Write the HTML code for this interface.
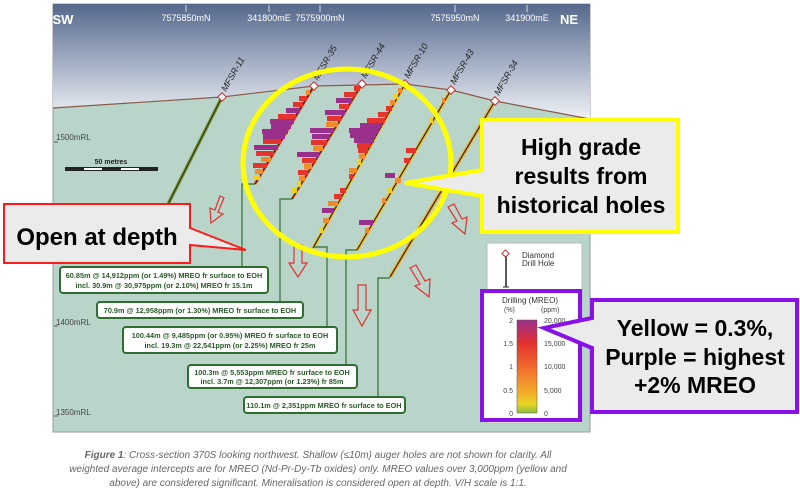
<!DOCTYPE html>
<html><head><meta charset="utf-8"><style>
body{margin:0;background:#fff;width:800px;height:492px;overflow:hidden;font-family:"Liberation Sans",sans-serif}
</style></head><body>
<svg width="800" height="492" xmlns="http://www.w3.org/2000/svg" font-family="Liberation Sans, sans-serif">
<defs>
<linearGradient id="sky" x1="0" y1="0" x2="0" y2="1">
<stop offset="0" stop-color="#55688c"/><stop offset="0.55" stop-color="#a9b4c8"/><stop offset="1" stop-color="#eef1f4"/></linearGradient>
<linearGradient id="cb" x1="0" y1="0" x2="0" y2="1">
<stop offset="0" stop-color="#9a2f8c"/><stop offset="0.25" stop-color="#e3312e"/><stop offset="0.5" stop-color="#ef6a2c"/><stop offset="0.75" stop-color="#f4a52a"/><stop offset="0.9" stop-color="#e9d325"/><stop offset="1" stop-color="#8cbf3c"/></linearGradient>
</defs>
<rect x="53" y="4" width="537" height="428" fill="#b9d5ca" stroke="#999" stroke-width="1"/>
<path d="M53,4 H590 V118 L585,118 L495,101 L451,90 L405,84 L314,86 L222,97 L53,108 Z" fill="url(#sky)"/>
<path d="M53,108 L222,97 L314,86 L405,84 L451,90 L495,101 L590,119" fill="none" stroke="#8a5a4a" stroke-width="1.2"/>
<g fill="#fff" font-size="9" text-anchor="middle">
<text x="63" y="24" font-size="13" font-weight="bold">SW</text>
<text x="569" y="24" font-size="13" font-weight="bold">NE</text>
<text x="186" y="21">7575850mN</text><text x="269" y="21">341800mE</text><text x="320" y="21">7575900mN</text><text x="455" y="21">7575950mN</text><text x="527" y="21">341900mE</text>
</g>
<g stroke="#ddd" stroke-width="1"><line x1="186" y1="5" x2="186" y2="12"/><line x1="269" y1="5" x2="269" y2="12"/><line x1="320" y1="5" x2="320" y2="12"/><line x1="455" y1="5" x2="455" y2="12"/><line x1="527" y1="5" x2="527" y2="12"/></g>
<g font-size="8" fill="#444"><text x="56" y="140">1500mRL</text><text x="56" y="325">1400mRL</text><text x="56" y="415">1350mRL</text></g>
<g stroke="#444" stroke-width="0.8"><line x1="54" y1="142" x2="58" y2="142"/><line x1="54" y1="326" x2="58" y2="326"/><line x1="54" y1="416" x2="58" y2="416"/></g>
<text x="111" y="164" font-size="7" font-weight="bold" text-anchor="middle" fill="#222">50 metres</text>
<rect x="65" y="167" width="93" height="4" fill="#222"/>
<rect x="84" y="168" width="18" height="2" fill="#fff"/><rect x="121" y="168" width="18" height="2" fill="#fff"/>
<line x1="222" y1="97" x2="150" y2="240" stroke="#7a9a30" stroke-width="3.5"/>
<line x1="222" y1="97" x2="150" y2="240" stroke="#222" stroke-width="1"/>
<line x1="495" y1="101" x2="390" y2="277" stroke="#f2b430" stroke-width="4"/>
<line x1="451" y1="90" x2="357" y2="250" stroke="#f2c030" stroke-width="4"/>
<line x1="405" y1="84" x2="313" y2="248" stroke="#f0c020" stroke-width="3.5"/>
<line x1="362" y1="84" x2="292" y2="199" stroke="#f08030" stroke-width="3"/>
<line x1="314" y1="86" x2="255" y2="184" stroke="#ef5a2a" stroke-width="3"/>
<g stroke="#222" stroke-width="1.2">
<line x1="495" y1="101" x2="390" y2="277"/><line x1="451" y1="90" x2="357" y2="250"/><line x1="405" y1="84" x2="313" y2="248"/><line x1="362" y1="84" x2="292" y2="199"/><line x1="314" y1="86" x2="255" y2="184"/></g>
<g>
<rect x="306" y="90" width="4" height="5" fill="#f08a2a"/><rect x="299" y="96" width="8" height="5" fill="#e5342c"/><rect x="293" y="102" width="10" height="5" fill="#e5342c"/><rect x="286" y="108" width="14" height="5" fill="#9b2f8c"/><rect x="278" y="114" width="18" height="5" fill="#e5342c"/><rect x="270" y="119" width="24" height="5" fill="#9b2f8c"/><rect x="271" y="124" width="20" height="5" fill="#9b2f8c"/><rect x="262" y="129" width="26" height="5" fill="#9b2f8c"/><rect x="263" y="134" width="22" height="5" fill="#9b2f8c"/><rect x="263" y="139" width="18" height="5" fill="#e5342c"/><rect x="254" y="145" width="24" height="5" fill="#9b2f8c"/><rect x="256" y="151" width="18" height="5" fill="#e5342c"/><rect x="261" y="157" width="10" height="5" fill="#f08a2a"/><rect x="253" y="163" width="14" height="5" fill="#e5342c"/><rect x="255" y="169" width="8" height="5" fill="#f08a2a"/><rect x="254" y="175" width="6" height="5" fill="#f2d020"/>
</g>
<g>
<rect x="354" y="86" width="6" height="5" fill="#e5342c"/><rect x="344" y="92" width="12" height="5" fill="#e5342c"/><rect x="336" y="98" width="16" height="5" fill="#9b2f8c"/><rect x="339" y="104" width="10" height="5" fill="#e5342c"/><rect x="325" y="110" width="20" height="5" fill="#9b2f8c"/><rect x="327" y="116" width="14" height="5" fill="#e5342c"/><rect x="326" y="122" width="12" height="5" fill="#f08a2a"/><rect x="310" y="128" width="24" height="5" fill="#9b2f8c"/><rect x="312" y="134" width="18" height="5" fill="#9b2f8c"/><rect x="311" y="140" width="16" height="5" fill="#e5342c"/><rect x="313" y="146" width="10" height="5" fill="#f08a2a"/><rect x="297" y="152" width="22" height="5" fill="#9b2f8c"/><rect x="302" y="158" width="14" height="5" fill="#e5342c"/><rect x="304" y="164" width="8" height="5" fill="#f08a2a"/><rect x="298" y="170" width="10" height="5" fill="#e5342c"/><rect x="299" y="176" width="6" height="5" fill="#f08a2a"/><rect x="297" y="182" width="4" height="5" fill="#f2d020"/><rect x="291" y="188" width="6" height="5" fill="#f2d020"/>
</g>
<g>
<rect x="398" y="88" width="4" height="5" fill="#f08a2a"/><rect x="394" y="94" width="4" height="5" fill="#f2d020"/><rect x="390" y="100" width="5" height="5" fill="#f08a2a"/><rect x="386" y="106" width="6" height="5" fill="#e5342c"/><rect x="378" y="112" width="10" height="5" fill="#e5342c"/><rect x="367" y="118" width="18" height="5" fill="#e5342c"/><rect x="360" y="123" width="22" height="5" fill="#9b2f8c"/><rect x="349" y="128" width="30" height="5" fill="#9b2f8c"/><rect x="350" y="133" width="26" height="5" fill="#9b2f8c"/><rect x="354" y="138" width="20" height="5" fill="#9b2f8c"/><rect x="357" y="143" width="14" height="5" fill="#e5342c"/><rect x="358" y="148" width="10" height="5" fill="#e5342c"/><rect x="359" y="154" width="6" height="5" fill="#f08a2a"/><rect x="357" y="160" width="4" height="5" fill="#f2d020"/><rect x="349" y="168" width="8" height="5" fill="#f08a2a"/><rect x="349" y="174" width="4" height="5" fill="#e5342c"/><rect x="340" y="188" width="6" height="5" fill="#e5342c"/><rect x="334" y="194" width="8" height="5" fill="#e5342c"/><rect x="328" y="201" width="10" height="5" fill="#f08a2a"/><rect x="322" y="208" width="12" height="5" fill="#9b2f8c"/><rect x="323" y="218" width="6" height="5" fill="#f08a2a"/><rect x="319" y="228" width="4" height="5" fill="#f2d020"/>
</g>
<g>
<rect x="442" y="98" width="3" height="5" fill="#f08a2a"/><rect x="429" y="118" width="4" height="5" fill="#f2d020"/><rect x="406" y="148" width="10" height="5" fill="#e5342c"/><rect x="404" y="158" width="6" height="5" fill="#e5342c"/><rect x="385" y="173" width="10" height="5" fill="#9b2f8c"/><rect x="395" y="178" width="6" height="5" fill="#f08a2a"/><rect x="388" y="188" width="4" height="5" fill="#f2d020"/><rect x="382" y="198" width="4" height="5" fill="#f08a2a"/><rect x="359" y="220" width="14" height="5" fill="#9b2f8c"/><rect x="365" y="228" width="4" height="5" fill="#f08a2a"/>
</g>
<g fill="#fff" stroke="#c03030" stroke-width="1">
<rect x="219" y="94" width="6" height="6" transform="rotate(45 222 97)"/><rect x="311" y="83" width="6" height="6" transform="rotate(45 314 86)"/><rect x="359" y="81" width="6" height="6" transform="rotate(45 362 84)"/><rect x="402" y="81" width="6" height="6" transform="rotate(45 405 84)"/><rect x="448" y="87" width="6" height="6" transform="rotate(45 451 90)"/><rect x="492" y="98" width="6" height="6" transform="rotate(45 495 101)"/></g>
<g font-size="9" font-style="italic" fill="#222">
<text transform="translate(226,92) rotate(-60)">MFSR-11</text><text transform="translate(318,81) rotate(-60)">MFSR-35</text><text transform="translate(366,79) rotate(-60)">MFSR-44</text><text transform="translate(409,79) rotate(-60)">MFSR-10</text><text transform="translate(455,85) rotate(-60)">MFSR-43</text><text transform="translate(499,96) rotate(-60)">MFSR-34</text></g>
<g fill="none" stroke="#2f6e2f" stroke-width="1.2">
<path d="M242,267 V184 H255"/><path d="M280,302 V199 H292"/><path d="M327,327 V247 H313"/><path d="M346,365 V250 H357"/><path d="M378,397 V278 H390"/></g>
<g fill="none" stroke="#e03030" stroke-width="1.2">
<path d="M220,196 l4,2 l-6,14 l5,2 l-12,9 l-1,-15 l5,2 z"/>
<path d="M294,245 h8 v18 h5 l-9,14 l-9,-14 h5 z"/>
<path d="M358,285 h8 v25 h5 l-9,16 l-9,-16 h5 z"/>
<path d="M448,207 l6,-3 l8,15 l5,-2 l-2,17 l-13,-11 l5,-2 z"/>
<path d="M410,268 l6,-3 l9,16 l5,-2 l-1,18 l-14,-11 l5,-2 z"/>
</g>
<g fill="#fff" stroke="#2f6e2f" stroke-width="2">
<rect x="60" y="267" width="208" height="26" rx="3"/><rect x="97" y="302" width="206" height="16" rx="3"/><rect x="123" y="327" width="214" height="26" rx="3"/><rect x="188" y="365" width="169" height="23" rx="3"/><rect x="244" y="397" width="161" height="16" rx="3"/></g>
<g font-size="7.3" font-weight="bold" fill="#2a5a2a" text-anchor="middle">
<text x="164" y="278">60.85m @ 14,912ppm (or 1.49%) MREO fr surface to EOH</text>
<text x="164" y="288">incl. 30.9m @ 30,975ppm (or 2.10%) MREO fr 15.1m</text>
<text x="200" y="313">70.9m @ 12,958ppm (or 1.30%) MREO fr surface to EOH</text>
<text x="230" y="338">100.44m @ 9,485ppm (or 0.95%) MREO fr surface to EOH</text>
<text x="230" y="348">incl. 19.3m @ 22,541ppm (or 2.25%) MREO fr 25m</text>
<text x="272" y="375">100.3m @ 5,553ppm MREO fr surface to EOH</text>
<text x="272" y="384">incl. 3.7m @ 12,307ppm (or 1.23%) fr 85m</text>
<text x="324" y="408">110.1m @ 2,351ppm MREO fr surface to EOH</text>
</g>
<rect x="487" y="243" width="95" height="180" fill="#fff" stroke="#bbb"/>
<line x1="506" y1="256" x2="506" y2="287" stroke="#222" stroke-width="1.5"/><line x1="503" y1="287" x2="509" y2="287" stroke="#222"/>
<rect x="503" y="251" width="5" height="5" fill="#fff" stroke="#c03030" transform="rotate(45 505.5 253.5)"/>
<text x="522" y="258" font-size="8" fill="#333">Diamond</text><text x="522" y="266" font-size="8" fill="#333">Drill Hole</text>
<rect x="482" y="291" width="98" height="129" fill="#fff" stroke="#8a10e8" stroke-width="4"/>
<text x="530" y="303" font-size="8" text-anchor="middle" fill="#333">Drilling (MREO)</text>
<text x="504" y="312" font-size="7" fill="#444">(%)</text><text x="541" y="312" font-size="7" fill="#444">(ppm)</text>
<rect x="517" y="320" width="20" height="93" fill="url(#cb)" stroke="#555" stroke-width="0.5"/>
<g font-size="7" fill="#444"><text x="513" y="323" text-anchor="end">2</text><text x="513" y="346" text-anchor="end">1.5</text><text x="513" y="369" text-anchor="end">1</text><text x="513" y="393" text-anchor="end">0.5</text><text x="513" y="416" text-anchor="end">0</text>
<text x="544" y="323">20,000</text><text x="544" y="346">15,000</text><text x="544" y="369">10,000</text><text x="544" y="393">5,000</text><text x="544" y="416">0</text></g>
<ellipse cx="347" cy="163" rx="104" ry="94" fill="none" stroke="#ffff00" stroke-width="5"/>
<path d="M482,120 H678 V232 H482 V196 L405,183 L482,170 Z" fill="#ebebeb" stroke="#ffff00" stroke-width="4" stroke-linejoin="miter"/>
<g font-size="23" font-weight="bold" text-anchor="middle" fill="#000"><text x="581" y="155">High grade</text><text x="581" y="184">results from</text><text x="581" y="213">historical holes</text></g>
<path d="M4,204 H190 V228 L246,250 L190,245 V263 H4 Z" fill="#ebebeb" stroke="#ff1a1a" stroke-width="2"/>
<text x="97" y="245" font-size="24" font-weight="bold" text-anchor="middle">Open at depth</text>
<path d="M592,300 H797 V412 H592 V348 L544,328 L592,318 Z" fill="#ebebeb" stroke="#8a10e8" stroke-width="4"/>
<g font-size="23" font-weight="bold" text-anchor="middle"><text x="695" y="336">Yellow = 0.3%,</text><text x="695" y="365">Purple = highest</text><text x="695" y="393">+2% MREO</text></g>
<g font-size="10" font-style="italic" fill="#666" text-anchor="middle">
<text x="318" y="458"><tspan font-weight="bold">Figure 1</tspan>:  Cross-section 370S looking northwest.  Shallow (≤10m) auger holes are not shown for clarity.  All</text>
<text x="318" y="472">weighted average intercepts are for MREO (Nd-Pr-Dy-Tb oxides) only.  MREO values over 3,000ppm (yellow and</text>
<text x="318" y="486">above) are considered significant.  Mineralisation is considered open at depth.  V/H scale is 1:1.</text>
</g>
</svg>
</body></html>
